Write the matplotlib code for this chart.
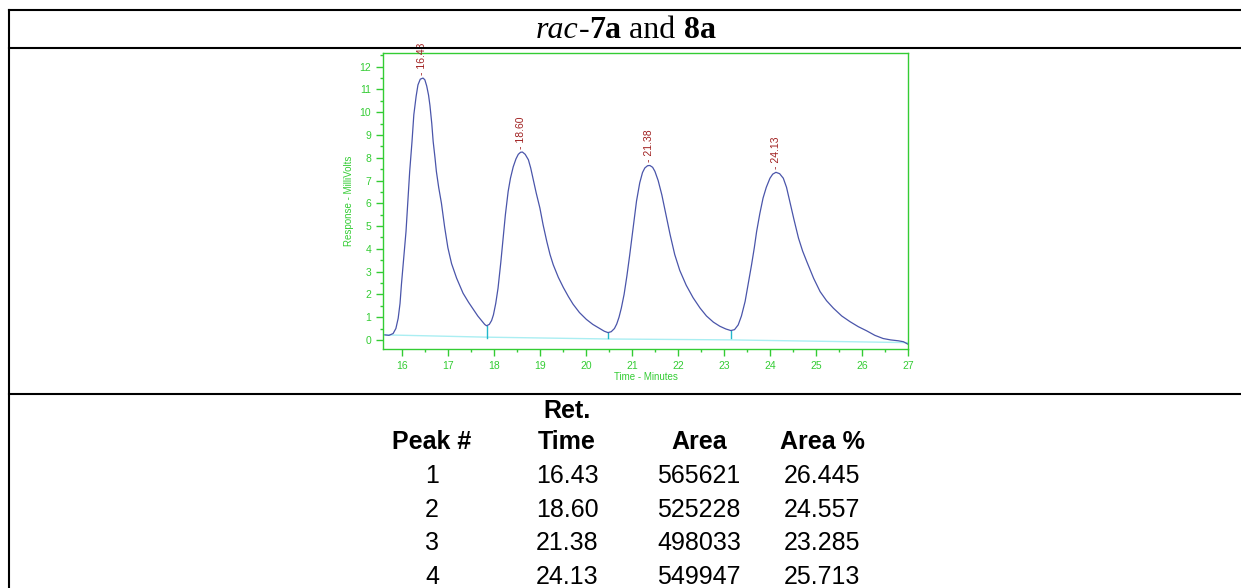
import numpy as np
import matplotlib.pyplot as plt
from matplotlib.lines import Line2D
from matplotlib.ticker import MultipleLocator

#===========================================
# chromatogram trace (minutes, millivolts)
t_trace = [15.63, 15.72, 15.81, 15.87, 15.92, 15.96, 15.99, 16.04, 16.09, 16.13,
           16.17, 16.22, 16.26, 16.31, 16.35, 16.40, 16.46, 16.50, 16.54, 16.58,
           16.61, 16.65, 16.68, 16.72, 16.75, 16.80, 16.86, 16.93, 17.00, 17.08,
           17.19, 17.33, 17.45, 17.55, 17.65, 17.73, 17.80, 17.84, 17.90, 17.95,
           17.99, 18.04, 18.09, 18.15, 18.20, 18.25, 18.31, 18.36, 18.42, 18.48,
           18.53, 18.58, 18.62, 18.68, 18.75, 18.80, 18.85, 18.92, 19.00, 19.07,
           19.15, 19.22, 19.29, 19.40, 19.51, 19.62, 19.72, 19.86, 20.01, 20.15,
           20.30, 20.40, 20.48, 20.55, 20.62, 20.67, 20.72, 20.77, 20.83, 20.89,
           20.95, 21.00, 21.05, 21.10, 21.17, 21.23, 21.28, 21.34, 21.39, 21.45,
           21.50, 21.57, 21.65, 21.74, 21.83, 21.93, 22.04, 22.18, 22.33, 22.48,
           22.62, 22.77, 22.91, 23.04, 23.15, 23.23, 23.31, 23.38, 23.46, 23.53,
           23.60, 23.66, 23.71, 23.78, 23.85, 23.92, 24.00, 24.06, 24.13, 24.21,
           24.29, 24.36, 24.43, 24.52, 24.62, 24.71, 24.80, 24.95, 25.09, 25.23,
           25.38, 25.56, 25.74, 25.92, 26.10, 26.28, 26.46, 26.62, 26.79, 26.90,
           27.00]
mv_trace = [0.22, 0.20, 0.28, 0.50, 0.95, 1.60, 2.42, 3.60, 4.76, 6.10,
            7.40, 8.70, 9.89, 10.70, 11.20, 11.45, 11.50, 11.42, 11.15, 10.75,
            10.30, 9.50, 8.72, 8.00, 7.40, 6.70, 6.00, 4.95, 4.05, 3.35,
            2.71, 2.05, 1.65, 1.35, 1.05, 0.85, 0.68, 0.62, 0.68, 0.85,
            1.10, 1.60, 2.27, 3.40, 4.47, 5.50, 6.52, 7.10, 7.60, 7.95,
            8.15, 8.24, 8.25, 8.15, 7.91, 7.55, 7.10, 6.45, 5.79, 5.05,
            4.32, 3.75, 3.30, 2.75, 2.30, 1.90, 1.57, 1.20, 0.90, 0.68,
            0.50, 0.38, 0.32, 0.36, 0.50, 0.70, 1.00, 1.40, 2.00, 2.80,
            3.70, 4.50, 5.30, 6.10, 6.90, 7.35, 7.55, 7.65, 7.66, 7.58,
            7.40, 7.00, 6.37, 5.50, 4.62, 3.75, 3.05, 2.40, 1.85, 1.40,
            1.05, 0.78, 0.60, 0.48, 0.41, 0.45, 0.66, 1.05, 1.69, 2.50,
            3.30, 4.05, 4.76, 5.55, 6.23, 6.70, 7.10, 7.28, 7.36, 7.30,
            7.10, 6.70, 6.08, 5.30, 4.47, 3.90, 3.44, 2.70, 2.12, 1.72,
            1.39, 1.05, 0.80, 0.58, 0.40, 0.20, 0.06, 0.00, -0.04, -0.08,
            -0.19]

# baseline under the peaks
t_base = [15.63, 17.84, 20.48, 23.15, 27.00]
mv_base = [0.22, 0.12, 0.04, 0.00, -0.12]
# valley drop lines
t_drop = [17.84, 20.48, 23.15]
mv_drop_top = [0.62, 0.32, 0.41]

# peak labels
peak_t = [16.43, 18.60, 21.38, 24.13]
peak_mv = [11.50, 8.25, 7.66, 7.36]

# table
headers = ["Peak #", "Time", "Area", "Area %"]
peak_no = ["1", "2", "3", "4"]
ret_time = ["16.43", "18.60", "21.38", "24.13"]
area = ["565621", "525228", "498033", "549947"]
area_pct = ["26.445", "24.557", "23.285", "25.713"]

#===========================================
W, H = 1241, 588
green = '#33cc33'
sans = 'Liberation Sans'

fig = plt.figure(figsize=(W/100, H/100), dpi=100)

def px(x, y):
    # pixel position (from top-left) -> figure fraction
    return x / W, 1 - y / H

# table borders
lw = 1.5
for yy in [10, 48, 394]:
    fig.add_artist(Line2D([8.5/W, 1], [1 - yy/H, 1 - yy/H], color='black', lw=lw))
fig.add_artist(Line2D([8.5/W, 8.5/W], [0, 1 - 10/H], color='black', lw=lw))

# title with mixed styles
fs_t = 23
ttl = fig.text(*px(536, 31), "rac", fontsize=fs_t, family='Liberation Serif',
               style='italic', va='center', ha='left')
fig.canvas.draw()
r = fig.canvas.get_renderer()
x0 = ttl.get_window_extent(r).x1
parts = [("-", 'normal'), ("7a", 'bold'), (" and ", 'normal'), ("8a", 'bold')]
for txt, wt in parts:
    t = fig.text(x0 / W, 1 - 31/H, txt, fontsize=fs_t, family='Liberation Serif',
                 weight=wt, va='center', ha='left')
    x0 = t.get_window_extent(r).x1

#===========================================
# chromatogram
ax = fig.add_axes([383/W, 1 - 349/H, (908-383)/W, (349-53)/H])
ax.plot(t_base, mv_base, color='#aaeef2', lw=1.0)
for t, v in zip(t_drop, mv_drop_top):
    ax.plot([t, t], [v, 0.08], color='#22b8cc', lw=1.0)
ax.plot(t_trace, mv_trace, color='#4a55aa', lw=0.9)
for t, v in zip(peak_t, peak_mv):
    ax.text(t, v + 0.15, "- %.2f" % t, rotation=90, ha='center', va='bottom',
            fontsize=7.5, family=sans, color='#a02020', clip_on=False)

ax.set_xlim(15.59, 27.0)
ax.set_ylim(-0.4, 12.6)
ax.xaxis.set_major_locator(MultipleLocator(1))
ax.xaxis.set_minor_locator(MultipleLocator(0.5))
ax.yaxis.set_major_locator(MultipleLocator(1))
ax.yaxis.set_minor_locator(MultipleLocator(0.5))
for s in ax.spines.values():
    s.set_color(green)
    s.set_linewidth(1.0)
ax.tick_params(which='major', direction='out', length=5, color=green,
               labelcolor=green, labelsize=7.5, width=1.0)
ax.tick_params(which='minor', direction='out', length=2.5, color=green, width=1.0)
for lab in ax.get_xticklabels() + ax.get_yticklabels():
    lab.set_family(sans)
ax.set_xlabel("Time - Minutes", color=green, fontsize=7, family=sans, labelpad=1)
ax.set_ylabel("Response - MilliVolts", color=green, fontsize=7, family=sans, labelpad=4)

#===========================================
# peak table
cols_x = [432, 567, 699, 822]
fs = 18
fig.text(*px(cols_x[1], 411), "Ret.", fontsize=fs, weight='bold',
         family=sans, ha='center', va='center')
for cx, h in zip(cols_x, headers):
    fig.text(*px(cx, 442), h, fontsize=fs, weight='bold',
             family=sans, ha='center', va='center')
row_y = [476, 510, 543, 577]
for i, ry in enumerate(row_y):
    for cx, col in zip(cols_x, [peak_no, ret_time, area, area_pct]):
        fig.text(*px(cx, ry), col[i], fontsize=fs, family=sans,
                 ha='center', va='center')

fig.savefig("out.png", dpi=100)
